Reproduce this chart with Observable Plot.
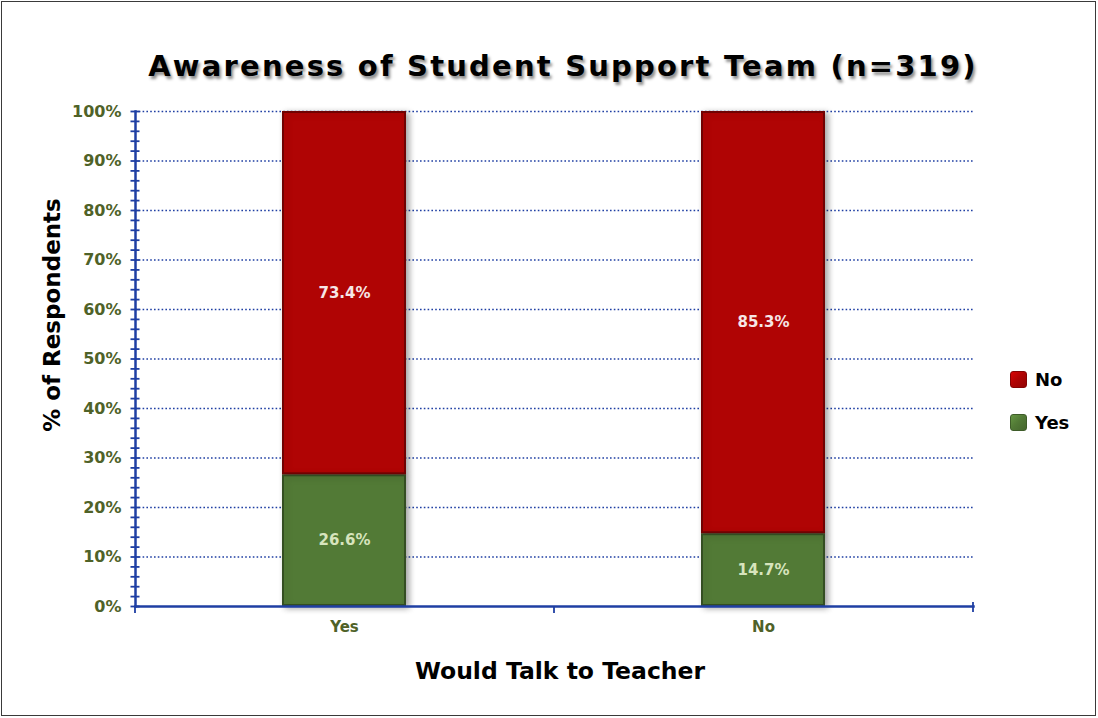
<!DOCTYPE html>
<html><head><meta charset="utf-8">
<script src="https://cdn.jsdelivr.net/npm/d3@7"></script>
<script src="https://cdn.jsdelivr.net/npm/@observablehq/plot@0.6"></script>
<style>
body{margin:0;background:#fff;}
#wrap{position:relative;width:1098px;height:718px;overflow:hidden;font-family:"DejaVu Sans",Verdana,sans-serif;background:#fff;}
#border{position:absolute;left:1px;top:1px;width:1095px;height:715px;border:1px solid #3a3a3a;box-sizing:border-box;}
#chart{position:absolute;left:0;top:0;}
#title{position:absolute;left:0;top:48px;width:1126px;text-align:center;font-weight:bold;font-size:29px;letter-spacing:2.2px;line-height:36px;color:#000;text-shadow:2px 3px 3px rgba(0,0,0,0.45);white-space:nowrap;}
#ytitle{position:absolute;left:52px;top:315px;transform:translate(-50%,-50%) rotate(-90deg);font-weight:bold;font-size:23px;white-space:nowrap;color:#000;}
#xtitle{position:absolute;left:560px;top:671px;transform:translate(-50%,-50%);font-weight:bold;font-size:23.5px;white-space:nowrap;color:#000;}
.leg{position:absolute;left:1010px;display:flex;align-items:center;font-weight:bold;font-size:18px;color:#000;}
.sw{width:17px;height:17px;border-radius:3px;margin-right:8px;box-sizing:border-box;}
g[aria-label="bar"]{filter:drop-shadow(3px 2px 3px rgba(0,0,0,0.35));}
</style>
</head><body>
<div id="wrap">
  <div id="border"></div>
  <div id="chart"></div>
  <div id="title"></div>
  <div id="ytitle"></div>
  <div id="xtitle"></div>
  <div id="legend"></div>
</div>
<script>
// ---- data ----
const titleText = "Awareness of Student Support Team (n=319)";
const xTitle = "Would Talk to Teacher";
const yTitle = "% of Respondents";
const categories = ["Yes", "No"];            // Would Talk to Teacher
const series = ["Yes", "No"];                // Aware of Student Support Team
const yesShare = [26.6, 14.7];
const noShare = [73.4, 85.3];
const seriesColors = ["#527a36", "#b00404"];
const labelColors = ["#d7e4bd", "#f6e6e6"];
const legendOrder = ["No", "Yes"];
const majorTicks = d3.range(0, 101, 10);
const minorTicks = d3.range(0, 101, 2);

const values = [yesShare, noShare];
const data = categories.flatMap((c, i) => series.map((s, j) => ({cat: c, series: s, value: values[j][i]})));
const colorOf = s => seriesColors[series.indexOf(s)];
const labelOf = s => labelColors[series.indexOf(s)];

document.getElementById("title").textContent = titleText;
document.getElementById("xtitle").textContent = xTitle;
document.getElementById("ytitle").textContent = yTitle;

const W = 1098, H = 718, mL = 135, mR = 125, mT = 111, mB = 112;
const bw = (W - mL - mR) / categories.length;
const blue = "#1f3fa3";

const plot = Plot.plot({
  width: W, height: H,
  marginLeft: mL, marginRight: mR, marginTop: mT, marginBottom: mB,
  style: {fontFamily: "'DejaVu Sans', Verdana, sans-serif", background: "transparent", overflow: "visible"},
  x: {domain: categories, paddingInner: 0.704, paddingOuter: 0.352, axis: null, label: null},
  y: {domain: [0, 100], axis: null, label: null},
  marks: [
    Plot.gridY(majorTicks.filter(d => d > 0), {stroke: blue, strokeOpacity: 1, strokeWidth: 1.7, strokeDasharray: "1.6,2.2"}),
    Plot.barY(data, Plot.stackY({x: "cat", y: "value", z: "series", order: series, fill: d => colorOf(d.series)})),
    Plot.barY(data, Plot.stackY({x: "cat", y: "value", z: "series", order: series, fill: "none", stroke: "#000", strokeOpacity: 0.35, strokeWidth: 2, inset: 1})),
    Plot.text(data, Plot.stackY({x: "cat", y: "value", z: "series", order: series,
      text: d => d.value.toFixed(1) + "%", fill: d => labelOf(d.series), fontWeight: "bold", fontSize: 15})),
    Plot.frame({anchor: "left", stroke: blue, strokeWidth: 2.5}),
    Plot.frame({anchor: "bottom", stroke: blue, strokeWidth: 2.5}),
    Plot.axisY({ticks: minorTicks, tickSize: 9, dx: 4.5, stroke: blue, strokeWidth: 1.8, fill: "none", label: null}),
    Plot.axisY({ticks: majorTicks, tickSize: 0, tickPadding: 14, tickFormat: d => d + "%", fill: "#4f6228", fontWeight: "bold", fontSize: 16, label: null}),
    Plot.axisX({ticks: categories, tickSize: 7, dx: -bw / 2, stroke: blue, strokeWidth: 1.8, fill: "none", label: null}),
    Plot.axisX({ticks: categories.slice(-1), tickSize: 10, dx: bw / 2, dy: -4, stroke: blue, strokeWidth: 1.8, fill: "none", label: null}),
    Plot.axisX({ticks: categories, tickSize: 0, tickPadding: 15, fill: "#4f6228", fontWeight: "bold", fontSize: 15, label: null})
  ]
});
document.getElementById("chart").appendChild(plot);

const legend = document.getElementById("legend");
legendOrder.forEach((s, i) => {
  const row = document.createElement("div");
  row.className = "leg";
  row.style.top = (369 + i * 43) + "px";
  const sw = document.createElement("div");
  sw.className = "sw";
  const c = d3.color(colorOf(s));
  sw.style.background = `linear-gradient(135deg, ${c.brighter(0.6)}, ${c} 45%, ${c.darker(0.5)})`;
  sw.style.border = `1px solid ${c.darker(0.8)}`;
  row.appendChild(sw);
  const t = document.createElement("span");
  t.textContent = s;
  row.appendChild(t);
  legend.appendChild(row);
});
</script>
</body></html>
